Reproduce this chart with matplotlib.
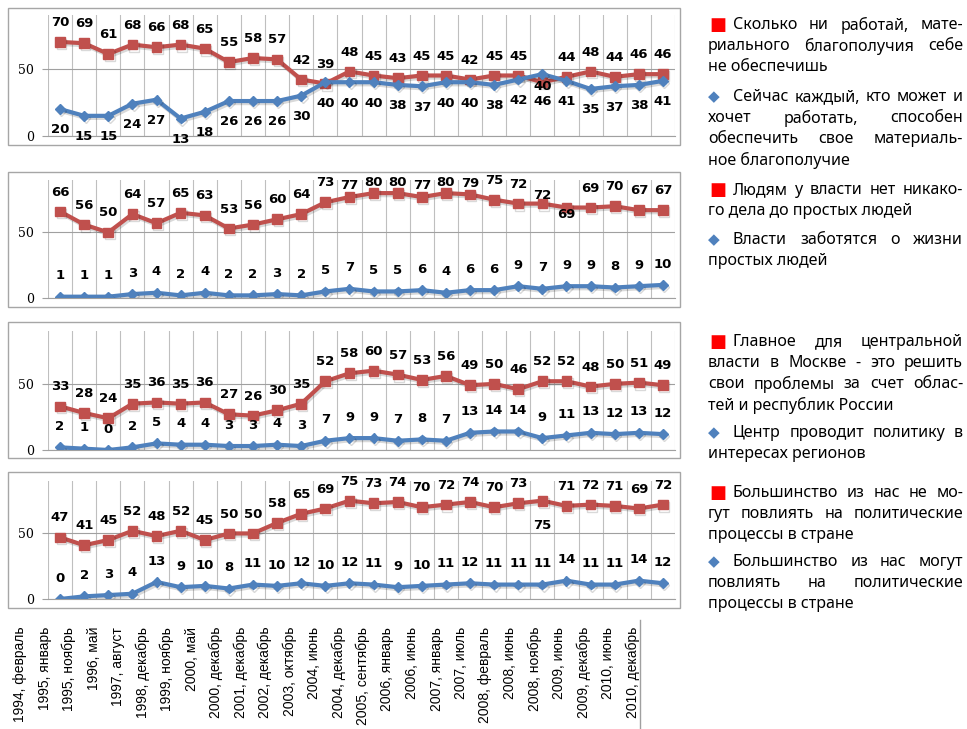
import matplotlib
matplotlib.use("Agg")
import numpy as np
import matplotlib.pyplot as plt
import matplotlib.patheffects as pe
from matplotlib.patches import Rectangle
from matplotlib.lines import Line2D

W, H = 967, 729

periods = [
    "1994, февраль", "1995, январь", "1995, ноябрь", "1996, май", "1997, август",
    "1998, декабрь", "1999, ноябрь", "2000, май", "2000, декабрь", "2001, декабрь",
    "2002, декабрь", "2003, октябрь", "2004, июнь", "2004, декабрь", "2005, сентябрь",
    "2006, январь", "2006, июнь", "2007, январь", "2007, июль", "2008, февраль",
    "2008, июнь", "2008, ноябрь", "2009, июнь", "2009, декабрь", "2010, июнь",
    "2010, декабрь",
]

work_red = [70, 69, 61, 68, 66, 68, 65, 55, 58, 57, 42, 39, 48, 45, 43, 45, 45, 42, 45, 45, 40, 44, 48, 44, 46, 46]
work_blue = [20, 15, 15, 24, 27, 13, 18, 26, 26, 26, 30, 40, 40, 40, 38, 37, 40, 40, 38, 42, 46, 41, 35, 37, 38, 41]

power_red = [66, 56, 50, 64, 57, 65, 63, 53, 56, 60, 64, 73, 77, 80, 80, 77, 80, 79, 75, 72, 72, 69, 69, 70, 67, 67]
power_blue = [1, 1, 1, 3, 4, 2, 4, 2, 2, 3, 2, 5, 7, 5, 5, 6, 4, 6, 6, 9, 7, 9, 9, 8, 9, 10]

center_red = [33, 28, 24, 35, 36, 35, 36, 27, 26, 30, 35, 52, 58, 60, 57, 53, 56, 49, 50, 46, 52, 52, 48, 50, 51, 49]
center_blue = [2, 1, 0, 2, 5, 4, 4, 3, 3, 4, 3, 7, 9, 9, 7, 8, 7, 13, 14, 14, 9, 11, 13, 12, 13, 12]

influence_red = [47, 41, 45, 52, 48, 52, 45, 50, 50, 58, 65, 69, 75, 73, 74, 70, 72, 74, 70, 73, 75, 71, 72, 71, 69, 72]
influence_blue = [0, 2, 3, 4, 13, 9, 10, 8, 11, 10, 12, 10, 12, 11, 9, 10, 11, 12, 11, 11, 11, 14, 11, 11, 14, 12]

legend_blocks = [
    ("red", ["Сколько ни работай, мате-", "риального благополучия себе", "не обеспечишь"], 25),
    ("blue", ["Сейчас каждый, кто может и", "хочет работать, способен",
              "обеспечить свое материаль-", "ное благополучие"], 97),
    ("red", ["Людям у власти нет никако-", "го дела до простых людей"], 190),
    ("blue", ["Власти заботятся о жизни", "простых людей"], 240),
    ("red", ["Главное для центральной", "власти в Москве - это решить",
             "свои проблемы за счет облас-", "тей и республик России"], 342),
    ("blue", ["Центр проводит политику в", "интересах регионов"], 433),
    ("red", ["Большинство из нас не мо-", "гут повлиять на политические", "процессы в стране"], 493),
    ("blue", ["Большинство из нас могут", "повлиять на политические", "процессы в стране"], 562),
]

RED = "#C0504D"
BLUE = "#4F81BD"
GRID = "#BFBFBF"


def rect_px(left, top, right, bottom):
    return [left / W, 1 - bottom / H, (right - left) / W, (bottom - top) / H]


fig = plt.figure(figsize=(W / 100, H / 100), dpi=100)

# labels that Excel had nudged away from the default spot (offset in points)
high = {("r", i): 8 for i in range(12, 18)}
panels = [
    (work_red, work_blue, 15, 136, 8, 145, -1, {("r", 20): -3, ("b", 20): -20}),
    (power_red, power_blue, 180, 298, 172, 307, 1, {**high, ("r", 20): 6, ("r", 21): -5}),
    (center_red, center_blue, 331, 450, 322, 458, 1, {}),
    (influence_red, influence_blue, 481, 599, 472, 608, 1, {("r", 20): -18}),
]

shadow = [pe.SimpleLineShadow(offset=(1, -1.5), shadow_color="black", alpha=0.15), pe.Normal()]
x = np.arange(len(periods))

for red, blue, top, bottom, btop, bbot, bside, exc in panels:
    fig.add_artist(Rectangle((8 / W, 1 - bbot / H), (680 - 8) / W, (bbot - btop) / H,
                             transform=fig.transFigure, fill=False, edgecolor="#A6A6A6", lw=1))
    ax = fig.add_axes(rect_px(48, top, 675, bottom))
    ax.set_xlim(-0.5, len(periods) - 0.5)
    ax.set_ylim(0, 90)
    ax.patch.set_alpha(0)
    for s in ["top", "right", "left"]:
        ax.spines[s].set_visible(False)
    ax.spines["bottom"].set_color("#A0A0A0")
    ax.set_xticks([])
    ax.set_xticks(np.arange(-0.5, len(periods), 1), minor=True)
    ax.tick_params(axis="x", which="minor", length=0)
    ax.grid(which="minor", axis="x", color=GRID, lw=0.8)
    ax.set_yticks([0, 50])
    ax.set_yticklabels(["0", "50"], fontfamily="DejaVu Serif", fontsize=9)
    ax.tick_params(axis="y", length=4, color="#A0A0A0", pad=6)
    ax.grid(axis="y", which="major", color="#A0A0A0", lw=0.8)

    ax.plot(x, red, color=RED, lw=3, marker="s", ms=7, path_effects=shadow, zorder=3)
    ax.plot(x, blue, color=BLUE, lw=3, marker="D", ms=5, path_effects=shadow, zorder=3)

    for i in x:
        dy = exc.get(("r", i), 14)
        ax.annotate(str(red[i]), (i, red[i]), xytext=(0, dy), textcoords="offset points",
                    ha="center", va="center", fontsize=9.5, fontweight="bold", zorder=5)
        dy = exc.get(("b", i), 15 * bside)
        ax.annotate(str(blue[i]), (i, blue[i]), xytext=(0, dy), textcoords="offset points",
                    ha="center", va="center", fontsize=9.5, fontweight="bold", zorder=5)

# category labels, set in their own strip under the panels
lab = fig.add_axes(rect_px(7.75, 623, 644.75, 624))
lab.set_xlim(-0.5, len(periods) - 0.5)
for s in lab.spines.values():
    s.set_visible(False)
lab.set_yticks([])
lab.set_xticks(x)
lab.set_xticklabels(periods, rotation=90, fontfamily="Liberation Sans", fontsize=10)
lab.tick_params(axis="x", length=0, pad=2)
fig.add_artist(Line2D([640 / W, 640 / W], [1 - 620 / H, 0], transform=fig.transFigure,
                      color="#A0A0A0", lw=1))

# justified legend text on the right
renderer = fig.canvas.get_renderer()
FONT = dict(fontfamily="Noto Sans", fontsize=11.5, va="center", ha="left")
LINE = 21


def justify_line(text, x0, x1, y, last):
    if last:
        fig.text(x0 / W, 1 - y / H, text, **FONT)
        return
    words = text.split()
    arts = [fig.text(0, 1 - y / H, w, **FONT) for w in words]
    widths = [a.get_window_extent(renderer).width for a in arts]
    gap = (x1 - x0 - sum(widths)) / max(len(words) - 1, 1)
    pos = x0
    for a, w in zip(arts, widths):
        a.set_x(pos / W)
        pos += w + gap


for color, lines, y0 in legend_blocks:
    if color == "red":
        fig.text(709 / W, 1 - y0 / H, "■", color="#FF0000", fontsize=13, va="center", ha="left")
    else:
        fig.text(708 / W, 1 - y0 / H, "◆", color=BLUE, fontsize=11, va="center", ha="left")
    for k, line in enumerate(lines):
        xs = 733 if k == 0 else 708
        justify_line(line, xs, 963, y0 + k * LINE, k == len(lines) - 1)

fig.savefig("out.png", dpi=100)
